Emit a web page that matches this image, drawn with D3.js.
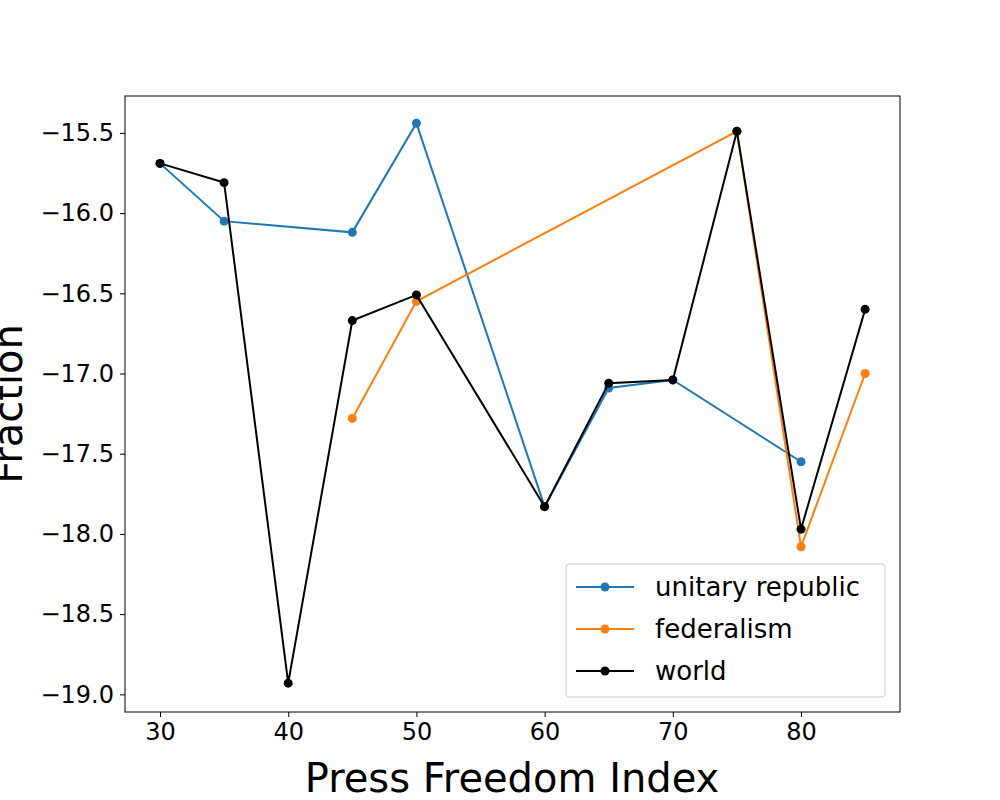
<!DOCTYPE html>
<html><head><meta charset="utf-8">
<script src="https://cdn.jsdelivr.net/npm/d3@7"></script>
<style>body{margin:0;background:#fff}text{font-family:"DejaVu Sans",sans-serif}</style>
</head><body><svg id="c" width="1000" height="800"></svg>
<script>
var unitaryX = [30, 35, 45, 50, 60, 65, 70, 80];
var unitaryY = [-15.69, -16.05, -16.12, -15.44, -17.83, -17.09, -17.04, -17.55];
var fedX = [45, 50, 75, 80, 85];
var fedY = [-17.28, -16.55, -15.49, -18.08, -17.0];
var worldX = [30, 35, 40, 45, 50, 60, 65, 70, 75, 80, 85];
var worldY = [-15.69, -15.81, -18.93, -16.67, -16.51, -17.83, -17.06, -17.04, -15.49, -17.97, -16.60];
var xTicks = [30, 40, 50, 60, 70, 80];
var yTicks = [-15.5, -16.0, -16.5, -17.0, -17.5, -18.0, -18.5, -19.0];

var svg = d3.select("#c");
var x = d3.scaleLinear().domain([27.27, 87.72]).range([125, 900]);
var y = d3.scaleLinear().domain([-15.27, -19.11]).range([96, 712]);

function series(xs, ys, color) {
    var pts = xs.map(function(v, i){ return [v, ys[i]]; });
    svg.append("path").attr("d", d3.line().x(function(d){return x(d[0]);}).y(function(d){return y(d[1]);})(pts))
        .attr("fill", "none").attr("stroke", color).attr("stroke-width", 2);
    svg.selectAll(null).data(pts).enter().append("circle")
        .attr("cx", function(d){return x(d[0]);}).attr("cy", function(d){return y(d[1]);})
        .attr("r", 4.5).attr("fill", color);
}
series(unitaryX, unitaryY, "#1f77b4");
series(fedX, fedY, "#ff7f0e");
series(worldX, worldY, "#000000");

svg.append("rect").attr("x", 125).attr("y", 96).attr("width", 775).attr("height", 616)
    .attr("fill", "none").attr("stroke", "#000").attr("stroke-width", 1);

var xa = svg.append("g").attr("transform", "translate(0,712)")
    .call(d3.axisBottom(x).tickValues(xTicks).tickSize(5).tickPadding(6));
var ya = svg.append("g").attr("transform", "translate(125,0)")
    .call(d3.axisLeft(y).tickValues(yTicks).tickSize(5).tickPadding(6)
    .tickFormat(function(d){ return d3.format(".1f")(d).replace("-", "\u2212"); }));
[xa, ya].forEach(function(a){
    a.select(".domain").remove();
    a.selectAll("text").attr("font-size", 24).attr("fill", "#000");
});

svg.append("text").attr("x", 512).attr("y", 792).attr("text-anchor", "middle").attr("font-size", 40).text("Press Freedom Index");
svg.append("text").attr("transform", "translate(22,404) rotate(-90)").attr("text-anchor", "middle").attr("font-size", 40).text("Fraction");

var leg = svg.append("g").attr("transform", "translate(566,564)");
leg.append("rect").attr("width", 319).attr("height", 133).attr("rx", 3).attr("fill", "#fff")
    .attr("stroke", "#ccc");
var names = ["unitary republic", "federalism", "world"];
var cols = ["#1f77b4", "#ff7f0e", "#000000"];
names.forEach(function(n, i){
    var yy = 23 + i * 42;
    leg.append("line").attr("x1", 10).attr("x2", 68).attr("y1", yy).attr("y2", yy).attr("stroke", cols[i]).attr("stroke-width", 2);
    leg.append("circle").attr("cx", 39).attr("cy", yy).attr("r", 4.5).attr("fill", cols[i]);
    leg.append("text").attr("x", 89).attr("y", yy + 9).attr("font-size", 26).text(n);
});
</script></body></html>
